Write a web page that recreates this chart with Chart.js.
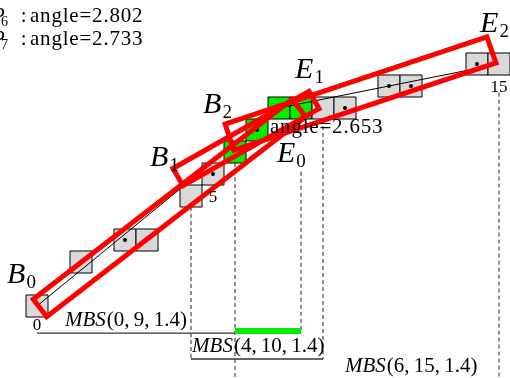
<!DOCTYPE html>
<html>
<head>
<meta charset="utf-8">
<script src="https://cdn.jsdelivr.net/npm/chart.js@4.4.1/dist/chart.umd.min.js"></script>
<style>
  html,body{margin:0;padding:0;background:#fff;}
  #wrap{width:510px;height:378px;}
</style>
</head>
<body>
<div id="wrap"><canvas id="c" width="510" height="378"></canvas></div>
<script>
// digital curve, points 0..15 (cell column / row)
const pointCols = [0,2,4,5,7,8,9,10,11,12,13,14,16,17,20,21];
const pointRows = [0,2,3,3,5,6,7,8,9,9,9,9,10,10,11,11];
const dotted    = [2,5,7,11,12,13,14];
const common    = [6,7,8,9];        // shared by the three segments
const polyIdx   = [0,8,15];
const idxLabels = [0,5,15];

// maximal blurred segments
const mbsFrom  = [0,4,6];
const mbsTo    = [9,10,15];
const mbsArgs  = ['(0,\u20099,\u20091.4)','(4,\u200910,\u20091.4)','(6,\u200915,\u20091.4)'];
const mbsLevel = [-1.23,-2.41,-3.59];

// dashed guides: point index, where they start
const guideIdx = [4,6,9,10,15];
const guideTop = [4.5,6.5,6.1,8.5,9.7];
const guideLvl = [1,2,0,1,2];

// bounding rectangles of the segments
const rectB0E0 = [[-0.17,0.31],[0.44,-0.49],[12.21,8.60],[11.60,9.40]];
const rectB1E1 = [[6.18,6.25],[6.64,5.47],[12.82,8.97],[12.36,9.75]];
const rectB2E2 = [[8.55,8.27],[8.95,7.09],[20.86,11.05],[20.45,12.23]];

const angleNames  = ['6','7'];
const angleValues = ['2.802','2.733'];
const midAngle    = '2.653';

const GRAY = '#d9d9d9', GREEN = '#00ee00', RED = '#ff0000';
const SERIF = '"Liberation Serif", "Times New Roman", serif';
const FONTS = {
  big: 'italic 30px ' + SERIF,
  sub: '19px ' + SERIF,
  it:  'italic 21px ' + SERIF,
  rm:  '21px ' + SERIF,
  small: '14px ' + SERIF,
  idx: '17px ' + SERIF
};

const pt = i => ({x: pointCols[i], y: pointRows[i]});
const allIdx = pointCols.map((_, i) => i);

const datasets = [];
datasets.push({ data: allIdx.filter(i => !common.includes(i)).map(pt), pointStyle:'rect', pointRadius:15.56,
  backgroundColor:GRAY, borderColor:'#000', borderWidth:1, showLine:false, order:10 });
datasets.push({ data: common.map(pt), pointStyle:'rect', pointRadius:15.56,
  backgroundColor:GREEN, borderColor:'#000', borderWidth:1, showLine:false, order:10 });
datasets.push({ data: polyIdx.map(pt), showLine:true, pointRadius:0, borderColor:'#000', borderWidth:1, order:8 });
datasets.push({ data: dotted.map(pt), pointRadius:2, backgroundColor:'#000', borderColor:'#000', borderWidth:0, showLine:false, order:7 });

guideIdx.forEach((i, k) => {
  datasets.push({ data:[{x:pointCols[i], y:guideTop[k]}, {x:pointCols[i], y:mbsLevel[guideLvl[k]]}],
    showLine:true, pointRadius:0, borderColor:'#222', borderWidth:1, borderDash:[4,3], order:9 });
});
mbsFrom.forEach((f, k) => {
  datasets.push({ data:[{x:pointCols[f], y:mbsLevel[k]}, {x:pointCols[mbsTo[k]], y:mbsLevel[k]}],
    showLine:true, pointRadius:0, borderColor:'#333', borderWidth:1.3, order:6 });
});
datasets.push({ data:[{x:pointCols[common[0]], y:mbsLevel[0]+0.09}, {x:pointCols[common[common.length-1]], y:mbsLevel[0]+0.09}],
  showLine:true, pointRadius:0, borderColor:GREEN, borderWidth:6, order:5 });

[rectB0E0, rectB1E1, rectB2E2].forEach(r => {
  const loop = r.concat([r[0], r[1]]).map(p => ({x:p[0], y:p[1]}));
  datasets.push({ data:loop, showLine:true, pointRadius:0, borderColor:RED, borderWidth:5,
    borderJoinStyle:'miter', order:1 });
});

// text, data coordinates, left / baseline
const texts = [
  {s:'B', sub:'0', f:'big', x:-1.36, y:1.05},
  {s:'B', sub:'1', f:'big', x:5.14, y:6.36},
  {s:'B', sub:'2', f:'big', x:7.55, y:8.77},
  {s:'E', sub:'0', f:'big', x:10.91, y:6.55},
  {s:'E', sub:'1', f:'big', x:11.73, y:10.36},
  {s:'E', sub:'2', f:'big', x:20.14, y:12.45},
  {s:'angle=' + midAngle, f:'rm', x:10.59, y:7.86, wide:true}
];
angleNames.forEach((n, k) => {
  const y = 12.909 - k * 1.045;
  texts.push({s:'P', f:'it', x:-2.05, y:y});
  texts.push({s:n, f:'small', x:-1.64, y:y - 0.18});
  texts.push({s:':', f:'rm', x:-0.74, y:y});
  texts.push({s:'angle=' + angleValues[k], f:'rm', x:-0.32, y:y, wide:true});
});
const mbsPos = [[1.27,-0.91],[7.05,-2.09],[14.0,-3.0]];

const annot = {
  id:'annot',
  beforeDraw(ch){ const c = ch.ctx; c.save(); c.fillStyle = '#fff'; c.fillRect(0, 0, ch.width, ch.height); c.restore(); },
  afterDatasetsDraw(ch){
    const c = ch.ctx, sx = ch.scales.x, sy = ch.scales.y;
    c.save();
    c.fillStyle = '#000'; c.textBaseline = 'alphabetic'; c.textAlign = 'left';
    texts.forEach(t => {
      const x = sx.getPixelForValue(t.x), y = sy.getPixelForValue(t.y);
      c.font = FONTS[t.f];
      c.letterSpacing = t.wide ? '0.8px' : '0px';
      c.fillText(t.s, x, y);
      c.letterSpacing = '0px';
      if (t.sub) { const w = c.measureText(t.s).width; c.font = FONTS.sub; c.fillText(t.sub, x + w + 1, y + 5); }
    });
    mbsArgs.forEach((a, k) => {
      const x = sx.getPixelForValue(mbsPos[k][0]), y = sy.getPixelForValue(mbsPos[k][1]);
      c.font = FONTS.it; c.fillText('MBS', x, y);
      const w = c.measureText('MBS').width;
      c.font = FONTS.rm; c.fillText(a, x + w + 1, y);
    });
    c.font = FONTS.idx; c.textAlign = 'center';
    idxLabels.forEach((i, k) => {
      const yv = [-1.09, 4.73, 9.73][k];
      c.fillText(String(i), sx.getPixelForValue(pointCols[i]), sy.getPixelForValue(yv));
    });
    c.restore();
  }
};

new Chart(document.getElementById('c'), {
  type:'scatter',
  data:{ datasets },
  options:{
    responsive:false, animation:false, events:[],
    layout:{ padding:0, autoPadding:false },
    plugins:{ legend:{display:false}, tooltip:{enabled:false} },
    scales:{
      x:{ type:'linear', min:-37/22, max:473/22, display:false },
      y:{ type:'linear', min:-72/22, max:306/22, display:false }
    }
  },
  plugins:[annot]
});
</script>
</body>
</html>
